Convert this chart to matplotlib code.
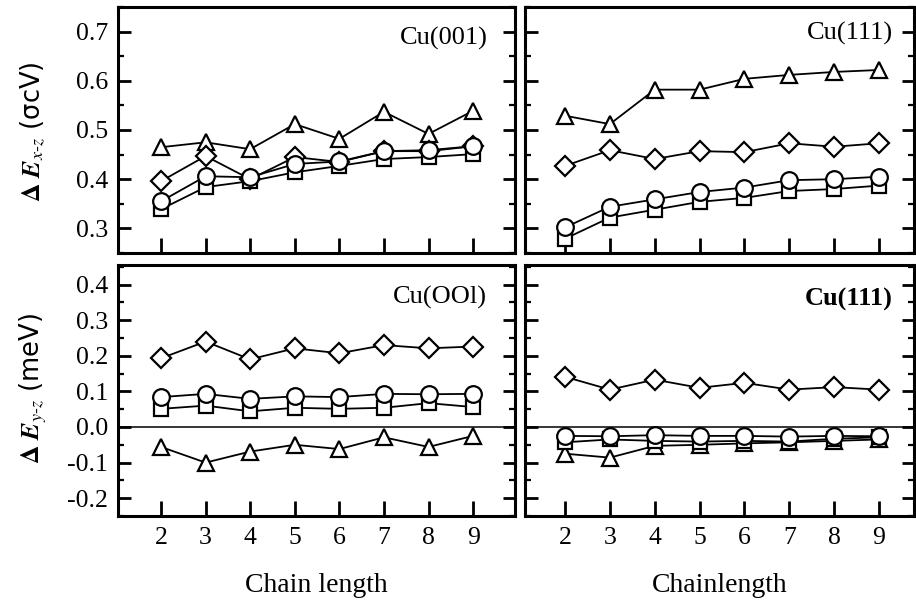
import matplotlib
matplotlib.use("Agg")
import matplotlib.pyplot as plt
from matplotlib.ticker import MultipleLocator
import numpy as np

plt.rcParams["font.family"] = ["Liberation Serif", "DejaVu Serif"]
plt.rcParams["mathtext.fontset"] = "stix"

chain = [2, 3, 4, 5, 6, 7, 8, 9]

# anisotropy energy x-z, Cu(001)
xz001_sq = [0.339, 0.384, 0.396, 0.414, 0.427, 0.441, 0.445, 0.451]
xz001_ci = [0.355, 0.406, 0.404, 0.431, 0.436, 0.457, 0.459, 0.467]
xz001_di = [0.396, 0.447, 0.400, 0.445, 0.435, 0.457, 0.457, 0.467]
xz001_tr = [0.465, 0.475, 0.461, 0.512, 0.482, 0.537, 0.492, 0.539]

# anisotropy energy x-z, Cu(111)
xz111_sq = [0.279, 0.322, 0.338, 0.354, 0.362, 0.376, 0.380, 0.387]
xz111_ci = [0.302, 0.344, 0.359, 0.374, 0.383, 0.398, 0.400, 0.405]
xz111_di = [0.427, 0.459, 0.441, 0.457, 0.455, 0.473, 0.466, 0.473]
xz111_tr = [0.529, 0.512, 0.582, 0.582, 0.604, 0.612, 0.618, 0.622]

# anisotropy energy y-z, Cu(001)
yz001_sq = [0.051, 0.060, 0.044, 0.054, 0.051, 0.054, 0.067, 0.056]
yz001_ci = [0.084, 0.093, 0.079, 0.086, 0.084, 0.093, 0.092, 0.093]
yz001_di = [0.193, 0.240, 0.190, 0.221, 0.207, 0.230, 0.221, 0.226]
yz001_tr = [-0.056, -0.100, -0.069, -0.050, -0.062, -0.029, -0.056, -0.025]

# anisotropy energy y-z, Cu(111)
yz111_sq = [-0.043, -0.035, -0.039, -0.041, -0.039, -0.041, -0.033, -0.029]
yz111_ci = [-0.025, -0.026, -0.023, -0.025, -0.025, -0.027, -0.025, -0.026]
yz111_di = [0.141, 0.105, 0.133, 0.110, 0.124, 0.105, 0.112, 0.105]
yz111_tr = [-0.075, -0.086, -0.053, -0.050, -0.046, -0.043, -0.039, -0.035]

W, H = 916, 607
fig = plt.figure(figsize=(W / 100, H / 100), dpi=100)


def box(x0, y0, x1, y1):
    # pixel box -> figure fraction
    return [x0 / W, 1 - y1 / H, (x1 - x0) / W, (y1 - y0) / H]


ax_tl = fig.add_axes(box(118, 7, 515, 253))
ax_tr = fig.add_axes(box(525, 7, 914, 253))
ax_bl = fig.add_axes(box(118, 265, 515, 516))
ax_br = fig.add_axes(box(525, 265, 914, 516))


def draw(ax, sq, ci, di, tr):
    style = dict(color="black", lw=1.3, mfc="white", mec="black", mew=1.6)
    ax.plot(chain, tr, marker="^", ms=12, **style)
    ax.plot(chain, di, marker="D", ms=10, **style)
    ax.plot(chain, sq, marker="s", ms=9.5, **style)
    ax.plot(chain, ci, marker="o", ms=12, **style)


draw(ax_tl, xz001_sq, xz001_ci, xz001_di, xz001_tr)
draw(ax_tr, xz111_sq, xz111_ci, xz111_di, xz111_tr)
draw(ax_bl, yz001_sq, yz001_ci, yz001_di, yz001_tr)
draw(ax_br, yz111_sq, yz111_ci, yz111_di, yz111_tr)

for ax in (ax_bl, ax_br):
    ax.axhline(0, color="black", lw=1.1, zorder=1)

for ax in (ax_tl, ax_tr, ax_bl, ax_br):
    for sp in ax.spines.values():
        sp.set_linewidth(2.2)
    ax.set_xticks(chain)
    ax.yaxis.set_major_locator(MultipleLocator(0.1))
    ax.yaxis.set_minor_locator(MultipleLocator(0.05))
    ax.tick_params(axis="y", which="major", direction="in", left=True, right=True,
                   length=9, width=2, labelsize=18.5, pad=7)
    ax.tick_params(axis="y", which="minor", direction="in", left=True, right=True,
                   length=4.5, width=1.6)
    ax.tick_params(axis="x", which="major", direction="in", bottom=True, top=False,
                   length=11, width=2, labelsize=18.5, pad=8)

ax_tl.set_xlim(1.035, 9.94)
ax_bl.set_xlim(1.035, 9.94)
ax_tr.set_xlim(1.108, 9.78)
ax_br.set_xlim(1.108, 9.78)

for ax in (ax_tl, ax_tr):
    ax.set_ylim(0.25, 0.75)
    ax.tick_params(axis="x", labelbottom=False)
for ax in (ax_bl, ax_br):
    ax.set_ylim(-0.25, 0.455)
for ax in (ax_tr, ax_br):
    ax.tick_params(axis="y", labelleft=False)

ax_tl.set_yticks([0.3, 0.4, 0.5, 0.6, 0.7])
ax_tl.set_yticklabels(["0.3", "0.4", "0.5", "0.6", "0.7"])
ax_bl.set_yticks([-0.2, -0.1, 0.0, 0.1, 0.2, 0.3, 0.4])
ax_bl.set_yticklabels(["-0.2", "-0.1", "0.0", "0.1", "0.2", "0.3", "0.4"])
ax_br.set_yticks([-0.2, -0.1, 0.0, 0.1, 0.2, 0.3, 0.4])

ax_tl.text(0.932, 0.874, "Cu(001)", transform=ax_tl.transAxes, ha="right", va="center", fontsize=19)
ax_tr.text(0.946, 0.894, "Cu(111)", transform=ax_tr.transAxes, ha="right", va="center", fontsize=19)
ax_bl.text(0.929, 0.869, "Cu(OOl)", transform=ax_bl.transAxes, ha="right", va="center", fontsize=19)
ax_br.text(0.946, 0.861, "Cu(111)", transform=ax_br.transAxes, ha="right", va="center", fontsize=19,
           fontweight="bold")

fig.text(33 / W, 1 - 132 / H, r"$\mathbf{\Delta}\ \mathbfit{E}_{x\text{-}z}$ (σcV)", rotation=90,
         ha="center", va="center", fontsize=18.5, family=["DejaVu Sans"])
fig.text(33 / W, 1 - 388 / H, r"$\mathbf{\Delta}\ \mathbfit{E}_{y\text{-}z}$ (meV)", rotation=90,
         ha="center", va="center", fontsize=18.5, family=["DejaVu Sans"])

fig.text(316 / W, 1 - 585 / H, "Chain length", ha="center", va="center", fontsize=20)
fig.text(720 / W, 1 - 585 / H, "Chainlength", ha="center", va="center", fontsize=20)

fig.savefig("out.png", dpi=100)
